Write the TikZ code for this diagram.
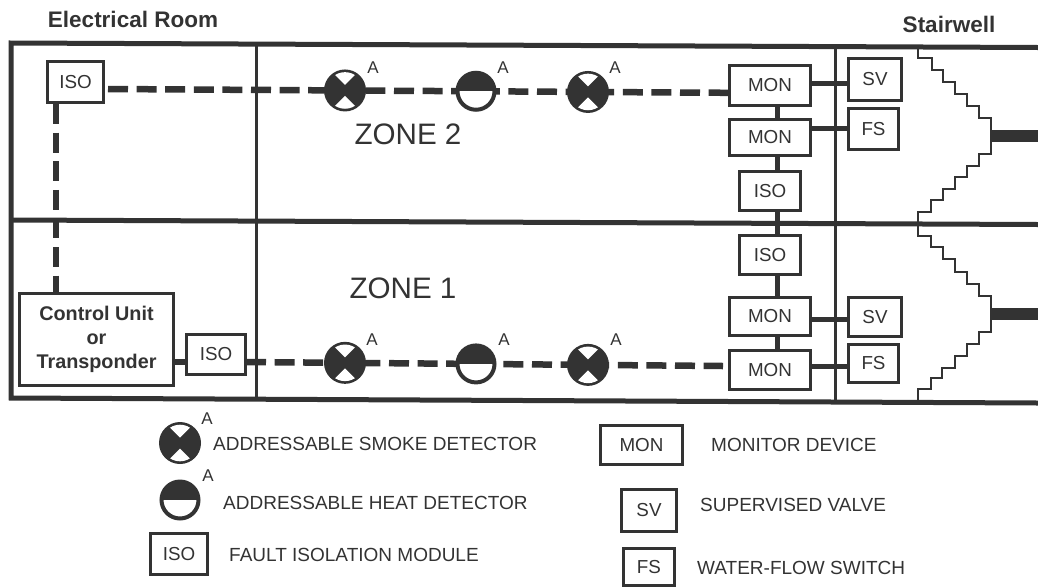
\documentclass[tikz,border=0pt]{standalone}
\usepackage{fontspec}
\setmainfont{Liberation Sans}
\usetikzlibrary{backgrounds}
\definecolor{inkc}{gray}{0.2}
\tikzset{
  wallthick/.style={draw=inkc,line width=5pt},
  wallthin/.style={draw=inkc,line width=3pt},
  stairline/.style={draw=inkc,line width=2.6pt},
  devbox/.style={draw=inkc,line width=3pt,fill=white,text=inkc,inner sep=0pt,font=\fontsize{18.8}{19}\selectfont},
  looplink/.style={draw=inkc,line width=6.5pt,dash pattern=on 20pt off 8.6pt},
  link/.style={draw=inkc,line width=5pt},
  stub/.style={draw=inkc,line width=12pt},
  roomlabel/.style={text=inkc,inner sep=0pt,font=\bfseries\fontsize{22.5}{23}\selectfont},
  zonelabel/.style={text=inkc,inner sep=0pt,font=\fontsize{29.6}{30}\selectfont},
  legendtext/.style={anchor=west,text=inkc,inner sep=0pt,font=\fontsize{19}{19}\selectfont},
  addr/.style={text=inkc,inner sep=0pt,font=\fontsize{17}{17}\selectfont},
  smokedet/.style={circle,fill=inkc,minimum size=42pt,inner sep=0pt,
    path picture={\begin{scope}
      \clip (path picture bounding box.center) circle (18.3pt);
      \fill[white] (path picture bounding box.center) ++(0,5.5pt) -- ++(-20pt,20pt) -- ++(40pt,0) -- cycle;
      \fill[white] (path picture bounding box.center) ++(0,-5.5pt) -- ++(-20pt,-20pt) -- ++(40pt,0) -- cycle;
    \end{scope}}},
  heatdet/.style={circle,draw=inkc,line width=4pt,fill=white,minimum size=37pt,inner sep=0pt,
    path picture={\fill[inkc] (path picture bounding box.west) rectangle (path picture bounding box.north east);}},
}
\begin{document}
\begin{tikzpicture}[x=1pt,y=-1pt]
  \useasboundingbox (0,0) rectangle (1038,587);
  % Rooms
  \draw[wallthick] (1038,47.5) -- (11,43) -- (11,398) -- (1038,403);
  \draw[wallthick] (11,220) -- (1038,224.5);
  \draw[wallthin] (256,44) -- (256,400);
  \draw[wallthin] (835,46) -- (835,401);
  \node[roomlabel] (room) at (133,19) {Electrical Room};
  \node[roomlabel] (stair) at (949,24) {Stairwell};
  \node[zonelabel] (zonetwo) at (408,134) {ZONE 2};
  \node[zonelabel] (zoneone) at (403,288) {ZONE 1};
  % Stairs
  \draw[stairline] (918,49) -- (918,58) -- (932,58) -- (932,70) -- (943,70) -- (943,82) -- (955,82) -- (955,94) -- (967,94) -- (967,106) -- (979,106) -- (979,118) -- (991,118)
    -- (991,154) -- (979,154) -- (979,166) -- (967,166) -- (967,177) -- (955,177) -- (955,189) -- (943,189) -- (943,200) -- (931,200) -- (931,212) -- (918,212) -- (918,224);
  \draw[stairline] (918,226) -- (918,236) -- (931,236) -- (931,247) -- (943,247) -- (943,259) -- (955,259) -- (955,272) -- (967,272) -- (967,284) -- (979,284) -- (979,296) -- (991,296)
    -- (991,332) -- (979,332) -- (979,344) -- (967,344) -- (967,356) -- (955,356) -- (955,368) -- (942,368) -- (942,378) -- (931,378) -- (931,389) -- (918,389) -- (918,400);
  \coordinate (stubtopin) at (991,136);
  \coordinate (stubtopout) at (1038,136);
  \coordinate (stubbotin) at (991,314);
  \coordinate (stubbotout) at (1038,314);
  \draw[stub] (stubtopin) -- (stubtopout);
  \draw[stub] (stubbotin) -- (stubbotout);
  % Control unit
  \node[devbox,minimum width=154pt,minimum height=92pt,align=center,font=\bfseries\fontsize{19.8}{24}\selectfont] (control) at (96.5,339.5) {Control Unit\\or\\Transponder};
  % Zone 2 devices
  \node[devbox,minimum width=56pt,minimum height=41pt] (isoa) at (75.5,82) {ISO};
  \node[smokedet] (deta) at (345,90.45) {};
  \node[heatdet] (detb) at (476,91.25) {};
  \node[smokedet] (detc) at (588,91.95) {};
  \node[devbox,minimum width=81pt,minimum height=40pt] (mona) at (770,85.5) {MON};
  \node[devbox,minimum width=81pt,minimum height=36pt] (monb) at (770,137.5) {MON};
  \node[devbox,minimum width=61pt,minimum height=39pt] (isob) at (770,191) {ISO};
  \node[devbox,minimum width=53pt,minimum height=42pt] (sva) at (875,79.5) {SV};
  \node[devbox,minimum width=50pt,minimum height=41pt] (fsa) at (873.5,129) {FS};
  % Zone 1 devices
  \node[devbox,minimum width=59pt,minimum height=40pt] (isoc) at (216,354.5) {ISO};
  \node[smokedet] (detd) at (345,362.83) {};
  \node[heatdet] (dete) at (476,363.93) {};
  \node[smokedet] (detf) at (588,364.87) {};
  \node[devbox,minimum width=61pt,minimum height=39pt] (isod) at (770,255) {ISO};
  \node[devbox,minimum width=81pt,minimum height=38pt] (monc) at (770,316.5) {MON};
  \node[devbox,minimum width=81pt,minimum height=39pt] (mond) at (770,370) {MON};
  \node[devbox,minimum width=53pt,minimum height=39pt] (svb) at (875,317) {SV};
  \node[devbox,minimum width=50pt,minimum height=38pt] (fsb) at (873.5,363.5) {FS};
  % Wiring
  \coordinate (loopastart) at (108,89);
  \coordinate (loopaend) at (729,92.8);
  \coordinate (loopbstart) at (246,362);
  \coordinate (loopbend) at (723,366);
  \begin{scope}[on background layer]
    \draw[looplink] (loopastart) -- (deta.center) -- (detb.center) -- (detc.center) -- (loopaend);
    \draw[looplink] (loopbstart) -- (detd.center) -- (dete.center) -- (detf.center) -- (loopbend);
    \draw[looplink] (isoa.south -| 56,0) -- (control.north -| 56,0);
    \draw[link] (mona.east |- 0,83) -- (sva.west |- 0,83);
    \draw[link] (monb.east |- 0,128) -- (fsa.west |- 0,128);
    \draw[link] (mona.south -| 777,0) -- (monb.north -| 777,0);
    \draw[link] (monb.south -| 777,0) -- (isob.north -| 777,0);
    \draw[link] (isob.south -| 777,0) -- (isod.north -| 777,0);
    \draw[link] (isod.south -| 777,0) -- (monc.north -| 777,0);
    \draw[link] (monc.south -| 777,0) -- (mond.north -| 777,0);
    \draw[link] (monc.east |- 0,319) -- (svb.west |- 0,319);
    \draw[link] (mond.east |- 0,366) -- (fsb.west |- 0,366);
    \draw[link,line width=6pt] (control.east |- 0,362) -- (isoc.west |- 0,362);
  \end{scope}
  \node[addr] (adra) at (373,68) {A};
  \node[addr] (adrb) at (503,68) {A};
  \node[addr] (adrc) at (615,68) {A};
  \node[addr] (adrd) at (372,340) {A};
  \node[addr] (adre) at (504,340) {A};
  \node[addr] (adrf) at (616,340) {A};
  % Legend
  \node[smokedet] (legsmoke) at (180,443) {};
  \node[addr] (legadra) at (207,419) {A};
  \node[legendtext] (legsmoketext) at (213,444) {ADDRESSABLE SMOKE DETECTOR};
  \node[heatdet] (legheat) at (180,500) {};
  \node[addr] (legadrb) at (208,476) {A};
  \node[legendtext] (legheattext) at (223,503) {ADDRESSABLE HEAT DETECTOR};
  \node[devbox,minimum width=57pt,minimum height=41pt] (legiso) at (179,554) {ISO};
  \node[legendtext] (legisotext) at (229,555) {FAULT ISOLATION MODULE};
  \node[devbox,minimum width=82pt,minimum height=39pt] (legmon) at (641.5,445) {MON};
  \node[legendtext] (legmontext) at (711,445) {MONITOR DEVICE};
  \node[devbox,minimum width=55pt,minimum height=42pt] (legsv) at (649,510.5) {SV};
  \node[legendtext] (legsvtext) at (700,505) {SUPERVISED VALVE};
  \node[devbox,minimum width=51pt,minimum height=37pt] (legfs) at (649,567) {FS};
  \node[legendtext] (legfstext) at (697,568) {WATER-FLOW SWITCH};
\end{tikzpicture}
\end{document}
